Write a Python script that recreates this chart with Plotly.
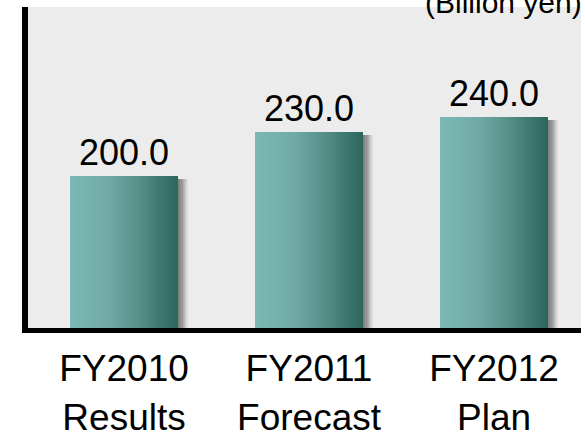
import plotly.graph_objects as go

categories = ["FY2010<br>Results", "FY2011<br>Forecast", "FY2012<br>Plan"]
values = [200.0, 230.0, 240.0]
value_labels = ["200.0", "230.0", "240.0"]
unit_label = "(Billion yen)"

FONT = "Arial, Liberation Sans, sans-serif"
BAR_W = 0.584
N_SLICES = 40
PX = 1 / 185.0  # one pixel in x data units (approx)

grad_stops = [
    (0.00, (122, 184, 181)),
    (0.35, (113, 171, 166)),
    (0.60, (90, 148, 141)),
    (0.85, (60, 118, 110)),
    (1.00, (44, 102, 93)),
]

def grad_color(t):
    for (t0, c0), (t1, c1) in zip(grad_stops[:-1], grad_stops[1:]):
        if t0 <= t <= t1:
            f = (t - t0) / (t1 - t0) if t1 > t0 else 0
            c = [round(a + (b - a) * f) for a, b in zip(c0, c1)]
            return f"rgb({c[0]},{c[1]},{c[2]})"
    c = grad_stops[-1][1]
    return f"rgb({c[0]},{c[1]},{c[2]})"

xs = [0, 1, 2]
fig = go.Figure()

# soft shadow to the right
for k in range(1, 9):
    fig.add_trace(go.Bar(
        x=xs, y=[v - 2 for v in values], width=BAR_W,
        offset=-BAR_W / 2 + k * 1.2 * PX,
        marker=dict(color="rgba(0,0,0,0.075)", line=dict(width=0)),
        hoverinfo="skip", showlegend=False,
    ))

# gradient slices
sw = BAR_W / N_SLICES
for i in range(N_SLICES):
    t = (i + 0.5) / N_SLICES
    w = sw * 1.8 if i < N_SLICES - 1 else sw
    fig.add_trace(go.Bar(
        x=xs, y=values, width=w, offset=-BAR_W / 2 + i * sw,
        marker=dict(color=grad_color(t), line=dict(width=0)),
        hoverinfo="skip", showlegend=False,
    ))

# value labels
fig.add_trace(go.Bar(
    x=xs, y=values, width=BAR_W,
    marker=dict(color="rgba(0,0,0,0)", line=dict(width=0)),
    text=value_labels, textposition="outside", cliponaxis=False,
    textfont=dict(family=FONT, size=36, color="black"),
    hoverinfo="skip", showlegend=False,
))

fig.add_annotation(
    text=unit_label, xref="paper", yref="paper", x=1, y=1,
    xanchor="right", yanchor="middle", xshift=3, yshift=5,
    showarrow=False, font=dict(family=FONT, size=30, color="black"),
)

fig.update_layout(
    width=585, height=439,
    margin=dict(l=28, r=4, t=7, b=111),
    paper_bgcolor="white", plot_bgcolor="#ececec",
    barmode="overlay", bargap=0,
    font=dict(family=FONT, color="black"),
    showlegend=False,
)
fig.update_xaxes(
    range=[-0.519, 2.470], tickmode="array", tickvals=xs, ticktext=categories,
    showline=True, linecolor="black", linewidth=5, ticks="",
    showgrid=False, zeroline=False, tickfont=dict(family=FONT, size=37, color="black"),
    ticklabelstandoff=4, automargin=False,
)
fig.update_yaxes(
    range=[96.9, 314.5], showline=True, linecolor="black", linewidth=6,
    showticklabels=False, ticks="", showgrid=False, zeroline=False, automargin=False,
)

fig.write_html("out.html")
